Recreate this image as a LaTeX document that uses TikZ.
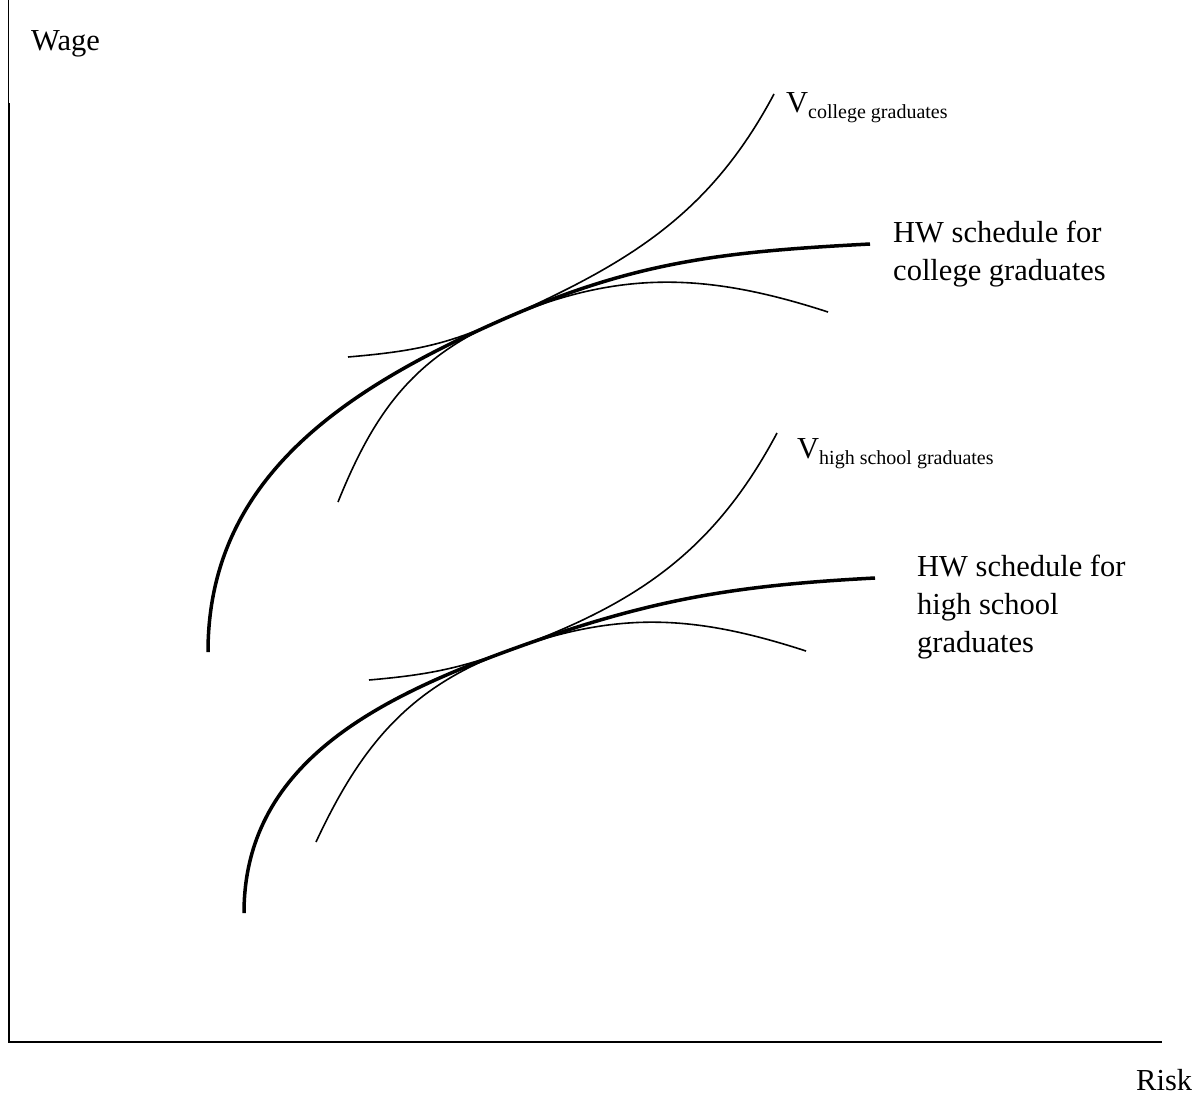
\documentclass[tikz,border=0pt]{standalone}
\usepackage{fontspec}
\setmainfont{Liberation Serif}
\begin{document}
\begin{tikzpicture}[x=1pt,y=1pt,
  lbl/.style={inner sep=0pt, anchor=base west, font=\fontsize{30.5}{38}\selectfont},
  hwcurve/.style={line width=3.5pt},
  vcurve/.style={line width=1.6pt},
  axisline/.style={line width=2pt}]
\useasboundingbox (0,0) rectangle (1198,-1111);
% axes
\coordinate (ytop) at (8.5,0);
\coordinate (ymid) at (8.5,-103);
\coordinate (orig) at (9,-1042);
\coordinate (xend) at (1162,-1042);
\draw[line width=1pt] (ytop) -- (ymid);
\draw[axisline] (9,-103) -- (orig) -- (xend);
\node[lbl] (wage) at (31,-50) {Wage};
\node[lbl] (risk) at (1136,-1090) {Risk};
% college graduates
\coordinate (t1) at (497,-322);
\draw[hwcurve] (208,-652) to[out=90,in=204] (t1) to[out=24,in=183] (870,-244);
\draw[vcurve] (338,-502) to[out=68,in=204] (t1) to[out=24,in=242] (774,-94);
\draw[vcurve] (348,-357) to[out=5,in=204] (t1) to[out=24,in=162] (828,-312);
\node[lbl] (vc) at (786,-112) {V\raisebox{-6pt}{\fontsize{20}{20}\selectfont college graduates}};
\node[lbl] (hwc1) at (893,-242) {HW schedule for};
\node[lbl] (hwc2) at (893,-280) {college graduates};
% high school graduates
\coordinate (t2) at (510,-650);
\draw[hwcurve] (244,-913) to[out=90,in=200] (t2) to[out=20,in=183] (875,-578);
\draw[vcurve] (316,-842) to[out=65,in=200] (t2) to[out=20,in=242] (777,-433);
\draw[vcurve] (369,-680) to[out=5,in=200] (t2) to[out=20,in=162] (806,-651);
\node[lbl] (vh) at (797,-458) {V\raisebox{-6pt}{\fontsize{20}{20}\selectfont high school graduates}};
\node[lbl] (hwh1) at (917,-576) {HW schedule for};
\node[lbl] (hwh2) at (917,-614) {high school};
\node[lbl] (hwh3) at (917,-652) {graduates};
\end{tikzpicture}
\end{document}
